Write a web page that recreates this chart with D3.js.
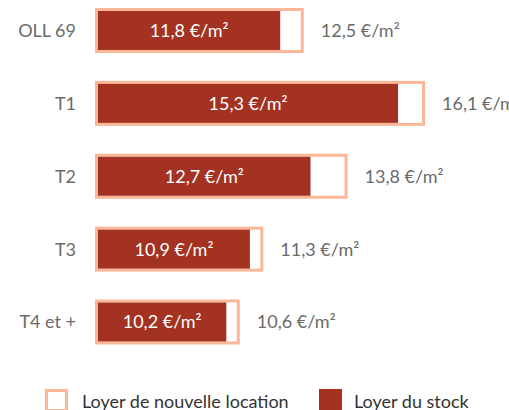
<!DOCTYPE html>
<html>
<head>
<meta charset="utf-8">
<script src="https://cdn.jsdelivr.net/npm/d3@7"></script>
<style>
html,body{margin:0;padding:0;background:#fff;overflow:hidden;}
svg{display:block;font-family:Lato,"Open Sans",sans-serif;}
</style>
</head>
<body>
<svg id="chart" width="509" height="410"></svg>
<script>
const categories = ["OLL 69", "T1", "T2", "T3", "T4 et +"];
const stockValues = [11.8, 15.3, 12.7, 10.9, 10.2];
const newLeaseValues = [12.5, 16.1, 13.8, 11.3, 10.6];
const legendLabels = ["Loyer de nouvelle location", "Loyer du stock"];

const fmt = v => d3.format(".1f")(v).replace(".", ",") + " €/m²";

const svg = d3.select("#chart");
const x = d3.scaleLinear().domain([6.3, 16.1]).range([95, 425]);
const y = d3.scalePoint().domain(categories).range([30.5, 322]);

const stroke = "#fbb797", fill = "#a33222";
const fs = 18;

const g = svg.append("g");
const rows = g.selectAll("g.row").data(categories.map((c, i) => ({c, s: stockValues[i], n: newLeaseValues[i]})))
  .enter().append("g").attr("class", "row");

rows.append("rect")
  .attr("x", 96.5)
  .attr("y", d => y(d.c) - 21)
  .attr("width", d => x(d.n) - 1.5 - 96.5)
  .attr("height", 42)
  .attr("fill", "#fff")
  .attr("stroke", stroke)
  .attr("stroke-width", 3);

rows.append("rect")
  .attr("x", 98)
  .attr("y", d => y(d.c) - 19.5)
  .attr("width", d => x(d.s) - 98)
  .attr("height", 39)
  .attr("fill", fill);

rows.append("text")
  .attr("x", 76)
  .attr("y", d => y(d.c))
  .attr("dy", "0.36em")
  .attr("text-anchor", "end")
  .attr("fill", "#6b6b6b")
  .attr("font-size", fs)
  .text(d => d.c);

rows.append("text")
  .attr("x", d => (98 + x(d.s)) / 2)
  .attr("y", d => y(d.c))
  .attr("dy", "0.36em")
  .attr("text-anchor", "middle")
  .attr("fill", "#fff")
  .attr("font-size", fs)
  .text(d => fmt(d.s));

rows.append("text")
  .attr("x", d => x(d.n) + 17)
  .attr("y", d => y(d.c))
  .attr("dy", "0.36em")
  .attr("fill", "#6b6b6b")
  .attr("font-size", fs)
  .text(d => fmt(d.n));

// legend
const leg = svg.append("g");
leg.append("rect").attr("x", 46.5).attr("y", 390.5).attr("width", 20).attr("height", 20)
  .attr("fill", "#fff").attr("stroke", stroke).attr("stroke-width", 3);
leg.append("text").attr("x", 82).attr("y", 408).attr("fill", "#333").attr("font-size", fs)
  .text(legendLabels[0]);
leg.append("rect").attr("x", 319).attr("y", 389).attr("width", 23).attr("height", 23)
  .attr("fill", fill);
leg.append("text").attr("x", 354).attr("y", 408).attr("fill", "#333").attr("font-size", fs)
  .text(legendLabels[1]);
</script>
</body>
</html>
